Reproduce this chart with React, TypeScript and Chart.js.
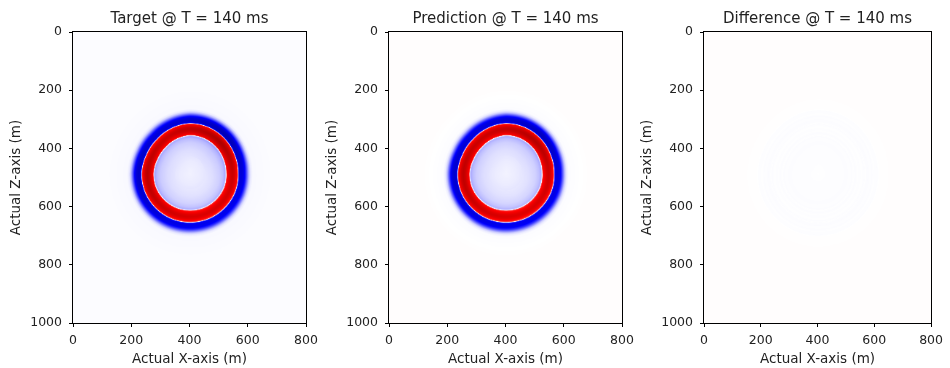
import React, { useEffect, useRef } from "react";
import { Chart, registerables } from "chart.js";

Chart.register(...registerables);

// ---------- data ----------
const X_TICKS = [0, 200, 400, 600, 800];
const Z_TICKS = [0, 200, 400, 600, 800, 1000];
const X_MIN = 0;
const X_MAX = 800;
const Z_MIN = 0;
const Z_MAX = 1000;
const TITLES = ["Target @ T = 140 ms", "Prediction @ T = 140 ms", "Difference @ T = 140 ms"];
const X_LABEL = "Actual X-axis (m)";
const Z_LABEL = "Actual Z-axis (m)";

// wavefront centre (m)
const SOURCE_X = 402;
const SOURCE_Z = 484;

// radius (m) of the blue/red zero crossing, at angles clockwise from +x (z grows downward)
const FRONT_ANGLE = [0, 22.5, 45, 67.5, 90, 112.5, 135, 157.5, 180, 202.5, 225, 247.5, 270, 292.5, 315, 337.5];
const FRONT_RADIUS = [165, 168, 169, 170, 170, 170, 169, 168, 166, 162, 162, 166, 170, 169, 167, 165];

// normalised amplitude across the front: offset (m) from the front, outward positive
const PROFILE_OFFSET = [-200, -175, -130, -90, -65, -52, -45, -42, -41, -40, -38, -33, -26, -19, -12, -7, -3.5, -1.5, -0.6, 0, 1.5, 4, 10, 18, 25, 31, 37, 43, 50, 120];
const TARGET_PROFILE = [-0.025, -0.025, -0.04, -0.065, -0.095, -0.13, -0.17, -0.06, 0.0, 0.35, 0.5, 0.58, 0.68, 0.72, 0.66, 0.56, 0.5, 0.35, 0.15, 0.0, -0.4, -0.58, -0.62, -0.58, -0.45, -0.28, -0.12, -0.04, -0.012, -0.006];
const PREDICTION_PROFILE = [-0.022, -0.022, -0.038, -0.062, -0.09, -0.125, -0.16, -0.055, 0.0, 0.34, 0.49, 0.57, 0.67, 0.71, 0.65, 0.55, 0.49, 0.34, 0.15, 0.0, -0.39, -0.57, -0.61, -0.57, -0.44, -0.27, -0.11, -0.035, -0.006, 0.004];
const DIFFERENCE_PROFILE = [0.003, 0.0, -0.004, -0.003, -0.006, -0.003, -0.007, -0.002, -0.005, -0.001, -0.004, -0.006, -0.002, -0.005, -0.001, -0.004, -0.006, -0.002, -0.004, -0.006, -0.002, -0.005, -0.007, -0.003, -0.006, -0.002, -0.004, -0.005, 0.002, 0.004];

// relative strength of the front with angle (same angles as FRONT_ANGLE)
const TARGET_GAIN = [1.0, 0.95, 0.92, 0.9, 0.92, 0.95, 1.0, 1.05, 1.08, 1.05, 1.0, 1.0, 1.05, 1.1, 1.15, 1.08];
const PREDICTION_GAIN = [1.0, 0.96, 0.93, 0.9, 0.92, 0.95, 1.0, 1.04, 1.06, 1.04, 1.0, 1.0, 1.04, 1.08, 1.12, 1.06];
const DIFFERENCE_GAIN = [1, 1, 1, 1, 1, 1, 1, 1, 1, 1, 1, 1, 1, 1, 1, 1];

const PROFILES = [TARGET_PROFILE, PREDICTION_PROFILE, DIFFERENCE_PROFILE];
const GAINS = [TARGET_GAIN, PREDICTION_GAIN, DIFFERENCE_GAIN];
const CELL = 2.5; // grid spacing (m)

// ---------- styling ----------
const FONT = "DejaVu Sans";
const TEXT = "#222222";
const SEISMIC = [
  [0, 0, 0.3],
  [0, 0, 1],
  [1, 1, 1],
  [1, 0, 0],
  [0.5, 0, 0],
];

function interp(xs: number[], ys: number[], x: number): number {
  if (x <= xs[0]) return ys[0];
  const n = xs.length;
  if (x >= xs[n - 1]) return ys[n - 1];
  for (let i = 1; i < n; i++) {
    if (x <= xs[i]) {
      const f = (x - xs[i - 1]) / (xs[i] - xs[i - 1]);
      return ys[i - 1] + (ys[i] - ys[i - 1]) * f;
    }
  }
  return ys[n - 1];
}

function angular(vals: number[], deg: number): number {
  const step = 360 / vals.length;
  const t = deg / step;
  const i = Math.floor(t) % vals.length;
  const j = (i + 1) % vals.length;
  const f = t - Math.floor(t);
  return vals[i] + (vals[j] - vals[i]) * f;
}

function seismic(a: number): [number, number, number] {
  const t = Math.min(1, Math.max(0, (a + 1) / 2)) * 4;
  const i = Math.min(3, Math.floor(t));
  const f = t - i;
  const c0 = SEISMIC[i];
  const c1 = SEISMIC[i + 1];
  return [0, 1, 2].map((k) => Math.round(255 * (c0[k] + (c1[k] - c0[k]) * f))) as [number, number, number];
}

function buildField(panel: number): HTMLCanvasElement {
  const nx = Math.round((X_MAX - X_MIN) / CELL);
  const nz = Math.round((Z_MAX - Z_MIN) / CELL);
  const off = document.createElement("canvas");
  off.width = nx;
  off.height = nz;
  const octx = off.getContext("2d")!;
  const img = octx.createImageData(nx, nz);
  const prof = PROFILES[panel];
  const gain = GAINS[panel];
  for (let j = 0; j < nz; j++) {
    const z = Z_MIN + (j + 0.5) * CELL;
    for (let i = 0; i < nx; i++) {
      const x = X_MIN + (i + 0.5) * CELL;
      const dx = x - SOURCE_X;
      const dz = z - SOURCE_Z;
      const r = Math.hypot(dx, dz);
      let deg = (Math.atan2(dz, dx) * 180) / Math.PI;
      if (deg < 0) deg += 360;
      const R = angular(FRONT_RADIUS, deg);
      const d = r - R;
      let v = interp(PROFILE_OFFSET, prof, d);
      if (Math.abs(v) > 0.05) v *= angular(gain, deg);
      const [cr, cg, cb] = seismic(v);
      const p = (j * nx + i) * 4;
      img.data[p] = cr;
      img.data[p + 1] = cg;
      img.data[p + 2] = cb;
      img.data[p + 3] = 255;
    }
  }
  octx.putImageData(img, 0, 0);
  return off;
}

const heatPlugin = {
  id: "heat",
  beforeDatasetsDraw(chart: any) {
    const field = chart.$field as HTMLCanvasElement;
    if (!field) return;
    const xs = chart.scales.x;
    const ys = chart.scales.y;
    const l = xs.getPixelForValue(X_MIN);
    const r = xs.getPixelForValue(X_MAX);
    const t = ys.getPixelForValue(Z_MIN);
    const b = ys.getPixelForValue(Z_MAX);
    const ctx = chart.ctx;
    ctx.save();
    ctx.imageSmoothingEnabled = true;
    ctx.imageSmoothingQuality = "high";
    ctx.drawImage(field, l, t, r - l, b - t);
    ctx.restore();
  },
  afterDatasetsDraw(chart: any) {
    const { left, top, right, bottom } = chart.chartArea;
    const ctx = chart.ctx;
    ctx.save();
    ctx.strokeStyle = "#000";
    ctx.lineWidth = 1;
    ctx.strokeRect(Math.round(left) - 0.5, Math.round(top) - 0.5, Math.round(right - left) + 1, Math.round(bottom - top) + 1);
    ctx.restore();
  },
};

const PANEL_LEFT = [0, 316, 631];
const PANEL_RIGHT_PAD = [20, 20, 13];
const Y_AXIS_W = 73;
const PLOT_W = 233;
const H = 368;

function Panel({ index }: { index: number }) {
  const ref = useRef<HTMLCanvasElement>(null);
  useEffect(() => {
    const canvas = ref.current!;
    const tickFont = { family: FONT, size: 12.5, lineHeight: 1 };
    const labelFont = { family: FONT, size: 13.5, lineHeight: 1 };
    const chart: any = new Chart(canvas, {
      type: "scatter",
      data: { datasets: [] },
      options: {
        animation: false,
        responsive: false,
        maintainAspectRatio: false,
        events: [],
        layout: { padding: { left: 0, top: 0, right: PANEL_RIGHT_PAD[index], bottom: 0 } },
        plugins: {
          legend: { display: false },
          tooltip: { enabled: false },
          title: { display: false },
        },
        scales: {
          x: {
            type: "linear",
            position: "bottom",
            min: X_MIN,
            max: X_MAX,
            afterBuildTicks: (s: any) => {
              s.ticks = X_TICKS.map((v) => ({ value: v }));
            },
            grid: { drawOnChartArea: false, tickLength: 4, tickColor: "#000", tickWidth: 1 },
            border: { display: true, color: "#000", width: 1 },
            ticks: { color: TEXT, font: tickFont, padding: 7, maxRotation: 0, autoSkip: false, callback: (v: any) => String(v) },
            title: { display: true, text: X_LABEL, color: TEXT, font: labelFont, padding: { top: 0, bottom: 1.5 } },
            afterFit: (s: any) => {
              s.height = 45;
            },
          },
          xTitle: {
            type: "linear",
            position: "top",
            min: X_MIN,
            max: X_MAX,
            grid: { display: false, drawTicks: false },
            border: { display: false },
            ticks: { display: false },
            title: {
              display: true,
              text: TITLES[index],
              color: TEXT,
              font: { family: FONT, size: 15, lineHeight: 1 },
              padding: { top: 11.5, bottom: 0 },
            },
            afterFit: (s: any) => {
              s.height = 32;
            },
          },
          y: {
            type: "linear",
            min: Z_MIN,
            max: Z_MAX,
            reverse: true,
            afterBuildTicks: (s: any) => {
              s.ticks = Z_TICKS.map((v) => ({ value: v }));
            },
            grid: { drawOnChartArea: false, tickLength: 4, tickColor: "#000", tickWidth: 1 },
            border: { display: true, color: "#000", width: 1 },
            ticks: { color: TEXT, font: tickFont, padding: 7, autoSkip: false, callback: (v: any) => String(v) },
            title: { display: true, text: Z_LABEL, color: TEXT, font: labelFont, padding: { top: 10, bottom: 0 } },
            afterFit: (s: any) => {
              s.width = Y_AXIS_W;
            },
          },
        },
      } as any,
      plugins: [heatPlugin as any],
    });
    chart.$field = buildField(index);
    chart.draw();
    return () => chart.destroy();
  }, [index]);
  const w = Y_AXIS_W + PLOT_W + PANEL_RIGHT_PAD[index];
  return (
    <canvas
      ref={ref}
      width={w}
      height={H}
      style={{ position: "absolute", left: PANEL_LEFT[index], top: 0, width: w, height: H }}
    />
  );
}

export default function App() {
  return (
    <div style={{ position: "absolute", left: 0, top: 0, width: 950, height: 368, overflow: "hidden", background: "#fff" }}>
      <Panel index={0} />
      <Panel index={1} />
      <Panel index={2} />
    </div>
  );
}
